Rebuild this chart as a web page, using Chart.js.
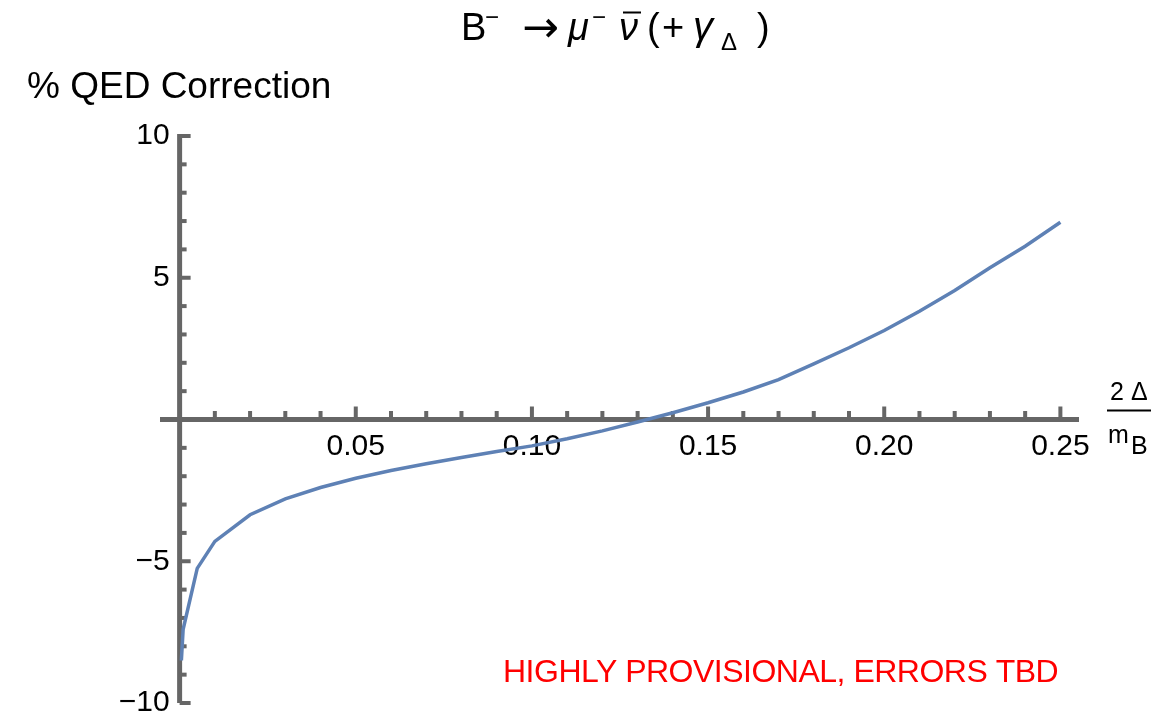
<!DOCTYPE html>
<html>
<head>
<meta charset="utf-8">
<script src="https://cdn.jsdelivr.net/npm/chart.js@4.4.0/dist/chart.umd.min.js"></script>
<style>
body { margin: 0; background: #fff; }
#wrap { width: 1171px; height: 712px; }
</style>
</head>
<body>
<div id="wrap"><canvas id="qedC"></canvas></div>
<script>
// 2Delta/mB and % QED correction
var deltaVals = [0.0005, 0.001, 0.005, 0.01, 0.02, 0.03, 0.04, 0.05, 0.06, 0.07, 0.08, 0.09, 0.10,
                 0.11, 0.12, 0.13, 0.14, 0.15, 0.16, 0.17, 0.18, 0.19, 0.20, 0.21, 0.22, 0.23, 0.24, 0.25];
var corrVals = [-8.5, -7.4, -5.25, -4.3, -3.36, -2.8, -2.4, -2.07, -1.8, -1.56, -1.34, -1.13, -0.93,
                -0.68, -0.40, -0.09, 0.24, 0.59, 0.97, 1.41, 1.96, 2.53, 3.14, 3.82, 4.55, 5.35, 6.11, 6.96];

// ticks
var xMajorTicks = [0.05, 0.10, 0.15, 0.20, 0.25];
var xTickLabels = ['0.05', '0.10', '0.15', '0.20', '0.25'];
var xMinorTicks = [0.01, 0.02, 0.03, 0.04, 0.06, 0.07, 0.08, 0.09, 0.11, 0.12, 0.13, 0.14,
                   0.16, 0.17, 0.18, 0.19, 0.21, 0.22, 0.23, 0.24];
var yMajorTicks = [-10, -5, 5, 10];
var yTickLabels = ['\u221210', '\u22125', '5', '10'];
var yMinorTicks = [-9, -8, -7, -6, -4, -3, -2, -1, 1, 2, 3, 4, 6, 7, 8, 9];

var fam = '"Liberation Sans", Arial, Helvetica, sans-serif';
var axisGray = '#666666';

function put(ctx, txt, x, y, size, style, family) {
    ctx.font = (style || 'normal') + ' ' + size + 'px ' + (family || fam);
    ctx.fillText(txt, x, y);
}

// y labels sit just left of the x = 0 axis line
var yLabelBox = {
    id: 'yLabelBox',
    afterLayout: function(chart) {
        var ys = chart.scales.y;
        ys.left = 0;
        ys.right = chart.scales.x.getPixelForValue(0);
    }
};

// vertical axis line at x = 0 and inward tick marks like the original
var axisTicks = {
    id: 'axisTicks',
    beforeDatasetsDraw: function(chart) {
        var ctx = chart.ctx, xs = chart.scales.x, ys = chart.scales.y;
        var x0 = xs.getPixelForValue(0), y0 = ys.getPixelForValue(0);
        ctx.save();
        ctx.strokeStyle = axisGray;
        ctx.lineCap = 'butt';
        ctx.lineWidth = 5;
        ctx.beginPath();
        ctx.moveTo(x0, ys.getPixelForValue(10) - 2);
        ctx.lineTo(x0, ys.getPixelForValue(-10));
        ctx.stroke();

        ctx.lineWidth = 4;
        xMinorTicks.forEach(function(v) {
            var px = xs.getPixelForValue(v);
            ctx.beginPath(); ctx.moveTo(px, y0); ctx.lineTo(px, y0 - 8.5); ctx.stroke();
        });
        xMajorTicks.forEach(function(v) {
            var px = xs.getPixelForValue(v);
            ctx.beginPath(); ctx.moveTo(px, y0); ctx.lineTo(px, y0 - 13); ctx.stroke();
        });
        yMinorTicks.forEach(function(v) {
            var py = ys.getPixelForValue(v);
            ctx.beginPath(); ctx.moveTo(x0, py); ctx.lineTo(x0 + 7, py); ctx.stroke();
        });
        yMajorTicks.forEach(function(v) {
            var py = ys.getPixelForValue(v);
            ctx.beginPath(); ctx.moveTo(x0, py); ctx.lineTo(x0 + 11, py); ctx.stroke();
        });
        ctx.restore();
    }
};

// title, axis labels and the red note
var texts = {
    id: 'texts',
    afterDraw: function(chart) {
        var ctx = chart.ctx;
        ctx.save();
        ctx.fillStyle = '#000';
        ctx.textBaseline = 'alphabetic';
        ctx.textAlign = 'left';

        // B- -> mu- nubar (+gamma_Delta)
        put(ctx, 'B', 461, 40, 38);
        put(ctx, '\u2212', 485, 25, 24);
        put(ctx, '\u2192', 522, 42, 44, 'normal', '"DejaVu Sans", sans-serif');
        put(ctx, '\u03bc', 568, 40, 38, 'italic');
        put(ctx, '\u2212', 592, 25, 24);
        put(ctx, '\u03bd', 619, 40, 38, 'italic');
        ctx.fillRect(623, 11.5, 18, 2);
        put(ctx, '(', 647, 40, 38);
        put(ctx, '+', 662, 40, 38);
        put(ctx, '\u03b3', 693, 40, 40, 'italic');
        put(ctx, '\u0394', 721, 50, 24);
        put(ctx, ')', 757, 40, 38);

        // y title
        put(ctx, '% QED Correction', 27, 98, 37);

        // x title 2 Delta / m_B
        put(ctx, '2', 1110, 400, 25);
        put(ctx, '\u0394', 1131, 400, 25);
        ctx.fillRect(1107, 409.5, 44, 2);
        put(ctx, 'm', 1108, 443, 25);
        put(ctx, 'B', 1131, 454, 25);

        ctx.fillStyle = '#ff0000';
        if ('letterSpacing' in ctx) ctx.letterSpacing = '-0.5px';
        put(ctx, 'HIGHLY PROVISIONAL, ERRORS TBD', 503, 682, 32);
        ctx.restore();
    }
};

Chart.defaults.font.family = fam;

new Chart(document.getElementById('qedC'), {
    type: 'line',
    data: {
        datasets: [{
            data: deltaVals.map(function(v, i) { return {x: v, y: corrVals[i]}; }),
            borderColor: '#5e81b5',
            borderWidth: 3.5,
            pointRadius: 0,
            tension: 0,
            fill: false
        }]
    },
    options: {
        responsive: true,
        maintainAspectRatio: false,
        animation: false,
        layout: { padding: { left: 162, right: 93, top: 136, bottom: 9 } },
        plugins: {
            legend: { display: false },
            tooltip: { enabled: false }
        },
        scales: {
            x: {
                type: 'linear',
                min: -0.005,
                max: 0.255,
                position: { y: 0 },
                grid: { display: false, drawTicks: false },
                border: { display: true, color: axisGray, width: 5 },
                afterBuildTicks: function(s) {
                    s.ticks = xMajorTicks.map(function(v) { return {value: v}; });
                },
                afterFit: function(s) {
                    s.paddingLeft = 0; s.paddingRight = 0;
                },
                ticks: {
                    autoSkip: false,
                    maxRotation: 0,
                    padding: 9,
                    color: '#000',
                    font: { size: 30 },
                    callback: function(v, i) { return xTickLabels[i]; }
                }
            },
            y: {
                type: 'linear',
                min: -10,
                max: 10,
                position: 'left',
                grid: { display: false, drawTicks: false },
                border: { display: false },
                afterBuildTicks: function(s) {
                    s.ticks = yMajorTicks.map(function(v) { return {value: v}; });
                },
                afterFit: function(s) {
                    s.width = 0;
                    s.paddingTop = 0; s.paddingBottom = 0;
                },
                ticks: {
                    autoSkip: false,
                    padding: 10,
                    color: '#000',
                    font: { size: 30 },
                    callback: function(v, i) { return yTickLabels[i]; }
                }
            }
        }
    },
    plugins: [yLabelBox, axisTicks, texts]
});
</script>
</body>
</html>
